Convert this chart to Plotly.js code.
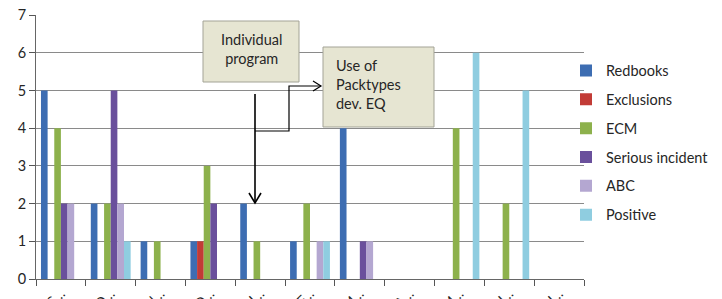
<!DOCTYPE html>
<html>
<head>
<meta charset="utf-8">
<script src="https://cdn.plot.ly/plotly-3.0.1.min.js"></script>
<style>html,body{margin:0;padding:0;background:#fff}#chart{width:722px;height:299px}</style>
</head>
<body>
<div id="chart"></div>
<script>
// Category tick labels (truncated in the original)
const categories = ["S…", "O…", "N…", "D…", "J…", "F…", "M…", "A…", "M…", "J…", "J…"];
const seriesNames = ["Redbooks", "Exclusions", "ECM", "Serious incident", "ABC", "Positive"];
const redbooks        = [5, 2, 1, 1, 2, 1, 4, 0, 0, 0, 0];
const exclusions      = [0, 0, 0, 1, 0, 0, 0, 0, 0, 0, 0];
const ecm             = [4, 2, 1, 3, 1, 2, 0, 0, 4, 2, 0];
const seriousIncident = [2, 5, 0, 2, 0, 0, 1, 0, 0, 0, 0];
const abc             = [2, 2, 0, 0, 0, 1, 1, 0, 0, 0, 0];
const positive        = [0, 1, 0, 0, 0, 1, 0, 0, 6, 5, 0];
const noteIndividual = "Individual<br>program";
const notePacktypes = "Use of<br>Packtypes<br>dev. EQ";

const seriesValues = [redbooks, exclusions, ecm, seriousIncident, abc, positive];
const colors = ["#3d6db2", "#c23b36", "#8db14c", "#6a509c", "#b4a7d1", "#8fcde0"];
const xIndex = categories.map((c, i) => i);

const traces = seriesNames.map((n, i) => ({
  type: "bar", name: n, x: xIndex, y: seriesValues[i],
  marker: {color: colors[i], line: {width: 0}},
  legendgroup: "g" + i
}));

// plot area in pixels
const L = 36, R = 584, T = 15, B = 279;
const px = v => (v - L) / (R - L);
const py = v => (B - v) / (B - T);
const lineStyle = {color: "#000", width: 1.6};
const boxStyle = {color: "#a3a396", width: 1};
const boxFill = "#e6e5d2";

const shapes = [
  // note boxes
  {type: "rect", xref: "paper", yref: "paper", x0: px(203), x1: px(299), y0: py(21), y1: py(82), line: boxStyle, fillcolor: boxFill, layer: "above"},
  {type: "rect", xref: "paper", yref: "paper", x0: px(323), x1: px(434), y0: py(47), y1: py(127), line: boxStyle, fillcolor: boxFill, layer: "above"},
  // vertical arrow
  {type: "line", xref: "paper", yref: "paper", x0: px(255), x1: px(255), y0: py(94), y1: py(203), line: lineStyle},
  {type: "path", xref: "paper", yref: "paper",
   path: `M${px(249)},${py(193)} L${px(255)},${py(203)} L${px(261)},${py(193)}`, line: lineStyle},
  // elbow connector
  {type: "path", xref: "paper", yref: "paper",
   path: `M${px(255)},${py(131)} L${px(289)},${py(131)} L${px(289)},${py(86)} L${px(321)},${py(86)}`, line: {color: "#000", width: 1.2}},
  {type: "path", xref: "paper", yref: "paper",
   path: `M${px(313)},${py(81)} L${px(321)},${py(86)} L${px(313)},${py(91)}`, line: {color: "#000", width: 1.2}}
];

const annFont = {family: "Lato, 'Open Sans', sans-serif", size: 14.5, color: "#262626"};
const annotations = [
  {xref: "paper", yref: "paper", x: px(251), y: py(49), xanchor: "center", yanchor: "middle",
   text: noteIndividual, showarrow: false, align: "center", font: annFont},
  {xref: "paper", yref: "paper", x: px(334), y: py(84), xanchor: "left", yanchor: "middle",
   text: notePacktypes, showarrow: false, align: "left", font: annFont}
];

const layout = {
  width: 722, height: 299,
  margin: {l: L, r: 722 - R, t: T, b: 299 - B, autoexpand: false},
  paper_bgcolor: "#fff", plot_bgcolor: "#fff",
  barmode: "group", bargap: 0.2, bargroupgap: 0,
  font: {family: "Lato, 'Open Sans', sans-serif", size: 13, color: "#262626"},
  xaxis: {type: "linear", range: [-0.5, categories.length - 0.5],
          tickmode: "array", tickvals: xIndex, ticktext: categories, ticks: "",
          minor: {tick0: -0.5, dtick: 1, ticks: "outside", ticklen: 6, tickcolor: "#555", showgrid: false},
          showline: true, linecolor: "#666", linewidth: 1, showgrid: false, zeroline: false, tickangle: -45,
          tickfont: {size: 14, color: "#262626"}, automargin: false},
  yaxis: {range: [0, 7], dtick: 1, ticks: "outside", ticklen: 6, tickcolor: "#555",
          showline: true, linecolor: "#666", linewidth: 1, showgrid: true, gridcolor: "#8a8a8a", gridwidth: 1,
          zeroline: false, tickfont: {size: 14.5, color: "#262626"}, automargin: false},
  legend: {x: px(566), xanchor: "left", y: py(143), yanchor: "middle", traceorder: "grouped",
           tracegroupgap: 7, font: {size: 14.5, color: "#262626"}, bgcolor: "rgba(0,0,0,0)", itemwidth: 30},
  shapes: shapes, annotations: annotations, showlegend: true
};

Plotly.newPlot("chart", traces, layout, {displayModeBar: false, staticPlot: true});
</script>
</body>
</html>
